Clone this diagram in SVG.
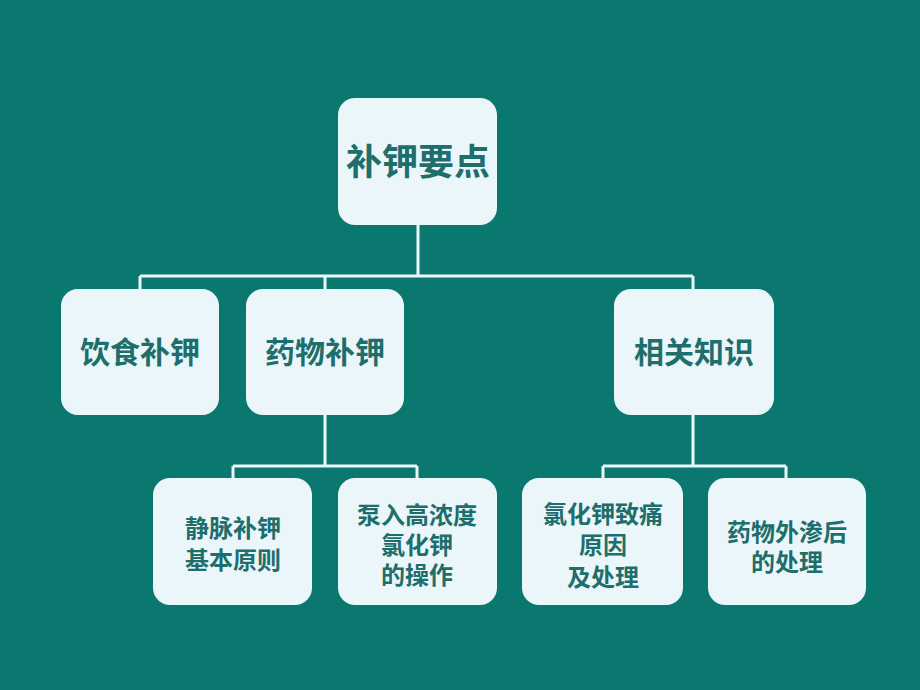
<svg xmlns="http://www.w3.org/2000/svg" width="920" height="690" viewBox="0 0 920 690">
<style>
.box{fill:#EAF6FA;stroke:none}
.t{font-family:"Noto Sans CJK SC","Noto Sans",sans-serif;fill:#1E6E6C;text-anchor:middle;font-weight:bold}
.l1{font-size:36px}
.l2{font-size:30px}
.l3{font-size:24px}
.c{fill:none;stroke:#EAF6FA;stroke-width:3}
</style>
<rect width="920" height="690" fill="#0B7870"/>
<g id="connectors">
<path class="c" d="M418 225 V276 M140 276 H693 M140 276 V289 M325 276 V289 M693 276 V289"/>
<path class="c" d="M325 415 V466 M233 466 H417 M233 466 V478 M417 466 V478"/>
<path class="c" d="M693 415 V466 M603 466 H786 M603 466 V478 M786 466 V478"/>
</g>
<g id="root"><rect class="box" x="338" y="98" width="159" height="127" rx="17"/><text class="t l1" x="418" y="175">补钾要点</text></g>
<g id="diet"><rect class="box" x="61" y="289" width="158" height="126" rx="17"/><text class="t l2" x="140" y="363">饮食补钾</text></g>
<g id="drug"><rect class="box" x="246" y="289" width="158" height="126" rx="17"/><text class="t l2" x="325" y="363">药物补钾</text></g>
<g id="knowledge"><rect class="box" x="614" y="289" width="160" height="126" rx="17"/><text class="t l2" x="694" y="363">相关知识</text></g>
<g id="iv"><rect class="box" x="153" y="478" width="159" height="127" rx="17"/><text class="t l3" x="233" y="537">静脉补钾<tspan x="233" dy="32">基本原则</tspan></text></g>
<g id="pump"><rect class="box" x="338" y="478" width="159" height="127" rx="17"/><text class="t l3" x="417" y="524">泵入高浓度<tspan x="417" dy="30">氯化钾</tspan><tspan x="417" dy="30">的操作</tspan></text></g>
<g id="pain"><rect class="box" x="522" y="478" width="161" height="127" rx="17"/><text class="t l3" x="603" y="523">氯化钾致痛<tspan x="603" dy="31">原因</tspan><tspan x="603" dy="32">及处理</tspan></text></g>
<g id="extravasation"><rect class="box" x="708" y="478" width="158" height="127" rx="17"/><text class="t l3" x="787" y="541">药物外渗后<tspan x="787" dy="30">的处理</tspan></text></g>
</svg>
